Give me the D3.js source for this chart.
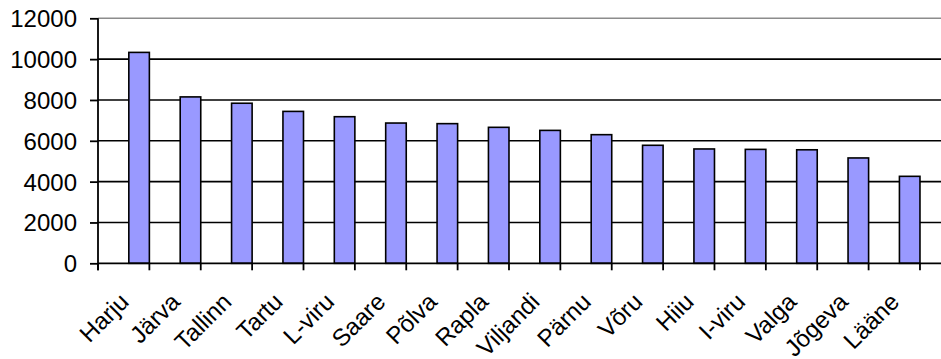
<!DOCTYPE html>
<html><head><meta charset="utf-8">
<script src="https://cdn.jsdelivr.net/npm/d3@7"></script>
<style>
html,body{margin:0;padding:0;background:#fff;}
text{font-family:Arial,"Liberation Sans",sans-serif;fill:#000;}
</style></head>
<body>
<script>
const categories = ["Harju","Järva","Tallinn","Tartu","L-viru","Saare","Põlva","Rapla","Viljandi","Pärnu","Võru","Hiiu","I-viru","Valga","Jõgeva","Lääne"];
const values = [10330,8150,7840,7440,7180,6870,6840,6660,6510,6300,5780,5600,5580,5560,5160,4260];
const yTicks = [0,2000,4000,6000,8000,10000,12000];

(function(){
const W = 941, H = 359;
const mLeft = 98, mTop = 18.3, mBottom = 263.3;
const step = 53.3;
const svg = d3.select("body").append("svg").attr("width", W).attr("height", H);
svg.append("rect").attr("width", W).attr("height", H).attr("fill", "#fff");

const x = d3.scaleBand().domain(categories).range([mLeft, mLeft + step * categories.length]).padding(0.6);
const y = d3.scaleLinear().domain([0, 12000]).range([mBottom, mTop]);

// gridlines
svg.append("g").selectAll("line").data(yTicks.filter(t => t > 0)).join("line")
  .attr("x1", mLeft).attr("x2", W + 20)
  .attr("y1", d => y(d)).attr("y2", d => y(d))
  .attr("stroke", d => d === 12000 ? "#8c8c8c" : "#000")
  .attr("stroke-width", 1.6);

// bars
svg.append("g").selectAll("rect").data(values).join("rect")
  .attr("x", (d, i) => x(categories[i]))
  .attr("width", x.bandwidth())
  .attr("y", d => y(d))
  .attr("height", d => y(0) - y(d))
  .attr("fill", "#9999ff").attr("stroke", "#000").attr("stroke-width", 1.6);

// y axis
const yAxis = d3.axisLeft(y).tickValues(yTicks).tickSize(8).tickPadding(13).tickFormat(d3.format("d"));
const gy = svg.append("g").attr("transform", `translate(${mLeft},0)`).call(yAxis);
gy.select(".domain").remove();
gy.selectAll(".tick line").attr("stroke", "#000").attr("stroke-width", 1.8);
gy.selectAll("text").style("font-size", "24px").attr("dy", "0.35em").attr("fill", "#000");
svg.append("line").attr("x1", mLeft).attr("x2", mLeft).attr("y1", mTop).attr("y2", mBottom + 7)
  .attr("stroke", "#000").attr("stroke-width", 1.8);

// x axis line
svg.append("line").attr("x1", mLeft).attr("x2", W + 20).attr("y1", mBottom).attr("y2", mBottom)
  .attr("stroke", "#000").attr("stroke-width", 1.8);
// x ticks at band boundaries
const bounds = d3.range(categories.length + 1).map(i => x.range()[0] + i * x.step());
svg.append("g").selectAll("line").data(bounds).join("line")
  .attr("x1", d => d).attr("x2", d => d).attr("y1", mBottom).attr("y2", mBottom + 7)
  .attr("stroke", "#000").attr("stroke-width", 1.8);

// x labels
svg.append("g").selectAll("text").data(categories).join("text")
  .attr("transform", d => `translate(${x(d) + x.bandwidth() / 2 - 9},${mBottom + 40}) rotate(-45)`)
  .attr("text-anchor", "end")
  .style("font-size", "24px")
  .text(d => d);
})();
</script>
</body></html>
